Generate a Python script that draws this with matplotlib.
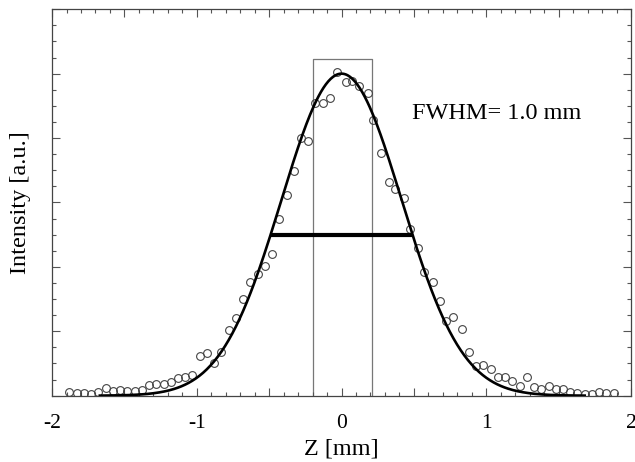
import numpy as np
import matplotlib
matplotlib.use("Agg")
import matplotlib.pyplot as plt
from matplotlib.ticker import MultipleLocator, FuncFormatter

plt.rcParams["font.family"] = ["Liberation Serif", "DejaVu Serif"]

# measured profile (open circles)
z_data = [-1.88, -1.83, -1.78, -1.73, -1.68, -1.63, -1.58, -1.53, -1.48, -1.43,
          -1.38, -1.33, -1.28, -1.23, -1.18, -1.13, -1.08, -1.03, -0.98, -0.93,
          -0.88, -0.83, -0.78, -0.73, -0.68, -0.63, -0.58, -0.53, -0.48, -0.43,
          -0.38, -0.33, -0.28, -0.23, -0.18, -0.13, -0.08, -0.03, 0.03, 0.07,
          0.12, 0.18, 0.22, 0.27, 0.33, 0.37, 0.43, 0.47, 0.53, 0.57,
          0.63, 0.68, 0.72, 0.77, 0.83, 0.88, 0.93, 0.98, 1.03, 1.08,
          1.13, 1.18, 1.23, 1.28, 1.33, 1.38, 1.43, 1.48, 1.53, 1.58,
          1.63, 1.68, 1.73, 1.78, 1.83, 1.88]
i_data = [0.011, 0.007, 0.008, 0.004, 0.012, 0.024, 0.015, 0.018, 0.015, 0.015,
          0.018, 0.033, 0.035, 0.035, 0.043, 0.056, 0.059, 0.063, 0.123, 0.134,
          0.102, 0.136, 0.205, 0.242, 0.300, 0.354, 0.378, 0.403, 0.440, 0.548,
          0.624, 0.699, 0.799, 0.791, 0.908, 0.910, 0.924, 1.005, 0.974, 0.977,
          0.962, 0.941, 0.856, 0.753, 0.665, 0.642, 0.615, 0.517, 0.458, 0.385,
          0.352, 0.294, 0.232, 0.243, 0.207, 0.137, 0.093, 0.096, 0.082, 0.059,
          0.059, 0.047, 0.031, 0.059, 0.028, 0.020, 0.031, 0.020, 0.020, 0.012,
          0.009, 0.005, 0.005, 0.012, 0.009, 0.007]

# gaussian fit parameters
fit_center = 0.0
fit_fwhm = 0.98
fit_peak = 1.0
fit_range = (-1.67, 1.68)

# slit window
slit_left = -0.20
slit_right = 0.21
slit_top = 1.046

fig = plt.figure(figsize=(6.35, 4.62), dpi=100)
ax = fig.add_axes([0.082, 0.1435, 0.9117, 0.8365])

sigma = fit_fwhm / (2 * np.sqrt(2 * np.log(2)))
zz = np.linspace(fit_range[0], fit_range[1], 400)
ax.plot(zz, fit_peak * np.exp(-(zz - fit_center) ** 2 / (2 * sigma ** 2)),
        color="black", lw=1.9, zorder=3)

ax.plot(z_data, i_data, "o", ms=5.6, mfc="none", mec="#444444", mew=0.8, zorder=2)

ax.plot([fit_center - fit_fwhm / 2, fit_center + fit_fwhm / 2], [fit_peak / 2] * 2,
        color="black", lw=3.0, solid_capstyle="butt", zorder=4)

ax.plot([slit_left, slit_left, slit_right, slit_right], [0, slit_top, slit_top, 0],
        color="#777777", lw=0.9, zorder=1)

ax.text(0.49, 0.876, "FWHM= 1.0 mm", fontsize=17.5, va="center", ha="left")

ax.set_xlim(-2, 2)
ax.set_ylim(0, 1.2)
ax.xaxis.set_major_locator(MultipleLocator(0.5))
ax.xaxis.set_minor_locator(MultipleLocator(0.1))
ax.xaxis.set_major_formatter(FuncFormatter(
    lambda v, p: "%d" % round(v) if abs(v - round(v)) < 1e-6 else ""))
ax.yaxis.set_major_locator(MultipleLocator(0.2))
ax.yaxis.set_minor_locator(MultipleLocator(0.05))
ax.yaxis.set_major_formatter(FuncFormatter(lambda v, p: ""))

ax.tick_params(which="both", direction="in", top=True, right=True,
               color="#555555", width=0.8, labelsize=15.5, pad=13)
ax.tick_params(which="major", length=6)
ax.tick_params(which="minor", length=3)
for s in ax.spines.values():
    s.set_color("#444444")
    s.set_linewidth(0.9)

ax.set_xlabel("Z [mm]", fontsize=17.5, labelpad=4)
ax.set_ylabel("Intensity [a.u.]", fontsize=17.5, labelpad=2)

fig.savefig("out.png", dpi=100)
